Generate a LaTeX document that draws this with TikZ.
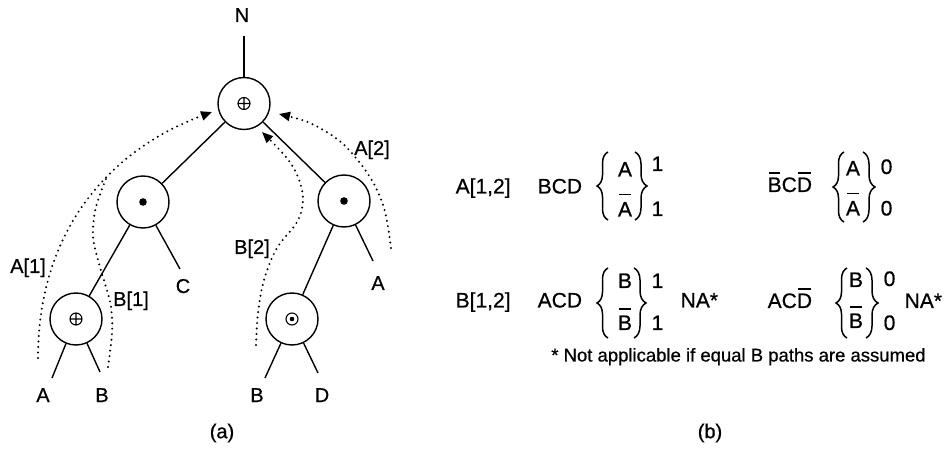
\documentclass[tikz,border=0pt]{standalone}
\usepackage{fontspec}
\setmainfont{Liberation Sans}[UprightFeatures={FakeBold=0.6}]
\usetikzlibrary{arrows.meta,decorations.pathreplacing}
\newcommand\ovl[2][4pt]{\leavevmode\hbox{\setbox0=\hbox{#2}\rlap{\hbox to\wd0{\hss\raisebox{\dimexpr\ht0+#1\relax}{\rule{0.8\wd0}{1.4pt}}\hss}}\box0}}
\begin{document}
\begin{tikzpicture}[x=1pt,y=-1pt,line width=1.4pt,
  gate/.style={circle,draw,minimum size=52pt,inner sep=0pt},
  oplusgate/.style={gate,path picture={\draw[line width=1.1pt] (path picture bounding box.center) circle (6pt) +(-6pt,0) -- +(6pt,0) +(0,-6pt) -- +(0,6pt);}},
  dotgate/.style={gate,path picture={\fill (path picture bounding box.center) circle (3.8pt);}},
  odotgate/.style={gate,path picture={\draw[line width=1.1pt] (path picture bounding box.center) circle (6pt); \fill (path picture bounding box.center) circle (2.3pt);}},
  lbl/.style={inner sep=0pt,anchor=base,font=\fontsize{20}{24}\selectfont},
  txt/.style={inner sep=0pt,anchor=base west,font=\fontsize{21}{25}\selectfont},
  dotpath/.style={line width=2.2pt,line cap=round,dash pattern=on 0pt off 5.5pt},
  tipend/.style={-{Triangle[length=11pt,width=9pt]}},
  lbrace/.style={decorate,decoration={brace,amplitude=11pt},line width=1.5pt},
  rbrace/.style={decorate,decoration={brace,amplitude=12pt},line width=1.5pt}
]
\useasboundingbox (0,0) rectangle (946,449);
\fill[white] (0,0) rectangle (946,449);

% ---------- tree (a) ----------
\node[oplusgate] (root) at (244,103.5) {};
\node[dotgate] (L) at (143,202) {};
\node[dotgate] (R) at (344,201) {};
\node[oplusgate] (LL) at (76,319) {};
\node[odotgate] (RL) at (292,319) {};

\node[lbl] (N) at (242,22) {N};
\node[lbl] (lC) at (183,293) {C};
\node[lbl] (lA1) at (43,402) {A};
\node[lbl] (lB1) at (102,402) {B};
\node[lbl] (lA2) at (378,290) {A};
\node[lbl] (lB2) at (257,402) {B};
\node[lbl] (lD) at (322,402) {D};

\coordinate (eN) at (244,36);
\coordinate (eC) at (180,269);
\coordinate (eA1) at (52,378);
\coordinate (eB1) at (100,372);
\coordinate (eA2) at (373,261);
\coordinate (eB2) at (265,378);
\coordinate (eD) at (318,373);

\draw (root) -- (eN);
\draw (root) -- (L);
\draw (root) -- (R);
\draw (L) -- (LL);
\draw (L) -- (eC);
\draw (LL) -- (eA1);
\draw (LL) -- (eB1);
\draw (R) -- (RL);
\draw (R) -- (eA2);
\draw (RL) -- (eB2);
\draw (RL) -- (eD);

% dotted path annotations
\draw[dotpath,tipend] (38,358) .. controls (38,230) and (110,150) .. (212,112);
\draw[dotpath] plot[smooth,tension=0.6] coordinates {(108,367) (112,333) (111,307) (106,287) (98,260) (93,235) (96,207) (106,179)};
\draw[dotpath,tipend] plot[smooth,tension=0.6] coordinates {(256,345) (258,313) (264,280) (277,248) (297,222) (303,200) (298,177) (286,157) (262,132)};
\draw[dotpath,tipend] plot[smooth,tension=0.6] coordinates {(391,248) (388,227) (384,208) (377,190) (368,174) (356,158) (342,143) (325,131) (305,121) (279,114)};

\node[lbl] (pA1) at (28,273) {A[1]};
\node[lbl] (pB1) at (131,306) {B[1]};
\node[lbl] (pB2) at (252,254) {B[2]};
\node[lbl] (pA2) at (372,155) {A[2]};

\node[lbl,anchor=center] (capa) at (222,433) {(a)};

% ---------- table (b) ----------
% row 1
\node[txt] (r1a) at (455,193.5) {A[1,2]};
\node[txt] (r1b) at (537,193.5) {BCD};
\node[txt,anchor=base] (r1x) at (625,176.5) {A};
\node[txt,anchor=base] (r1y) at (625,216.5) {\ovl[7pt]{A}};
\draw[lbrace] (608,220) -- (608,152);
\draw[rbrace] (635,152) -- (635,220);
\node[txt] (r1o1) at (651,171) {1};
\node[txt] (r1o2) at (651,216) {1};

\node[txt] (r1c) at (767,192) {\ovl{B}C\ovl{D}};
\node[txt,anchor=base] (r1p) at (853,175.5) {A};
\node[txt,anchor=base] (r1q) at (853,215.5) {\ovl[7pt]{A}};
\draw[lbrace] (844,222) -- (844,152);
\draw[rbrace] (863,152) -- (863,222);
\node[txt] (r1z1) at (880,174) {0};
\node[txt] (r1z2) at (880,215.5) {0};

% row 2
\node[txt] (r2a) at (455,307.5) {B[1,2]};
\node[txt] (r2b) at (537,307.5) {ACD};
\node[txt,anchor=base] (r2x) at (625,288) {B};
\node[txt,anchor=base] (r2y) at (625,330) {\ovl[6pt]{B}};
\draw[lbrace] (608,338) -- (608,268);
\draw[rbrace] (634,268) -- (634,338);
\node[txt] (r2o1) at (651,288) {1};
\node[txt] (r2o2) at (651,330) {1};
\node[txt] (r2na) at (680,307.5) {NA*};

\node[txt] (r2c) at (767,308) {AC\ovl{D}};
\node[txt,anchor=base] (r2p) at (856,287) {B};
\node[txt,anchor=base] (r2q) at (856,328) {\ovl[6pt]{B}};
\draw[lbrace] (847,338) -- (847,268);
\draw[rbrace] (866,268) -- (866,338);
\node[txt] (r2z1) at (883,286) {0};
\node[txt] (r2z2) at (883,330) {0};
\node[txt] (r2nb) at (904,308) {NA*};

\node[lbl,font=\fontsize{18.5}{22}\selectfont] (foot) at (738.5,361.5) {* Not applicable if equal B paths are assumed};

\node[lbl,anchor=center] (capb) at (710,433) {(b)};
\end{tikzpicture}
\end{document}
